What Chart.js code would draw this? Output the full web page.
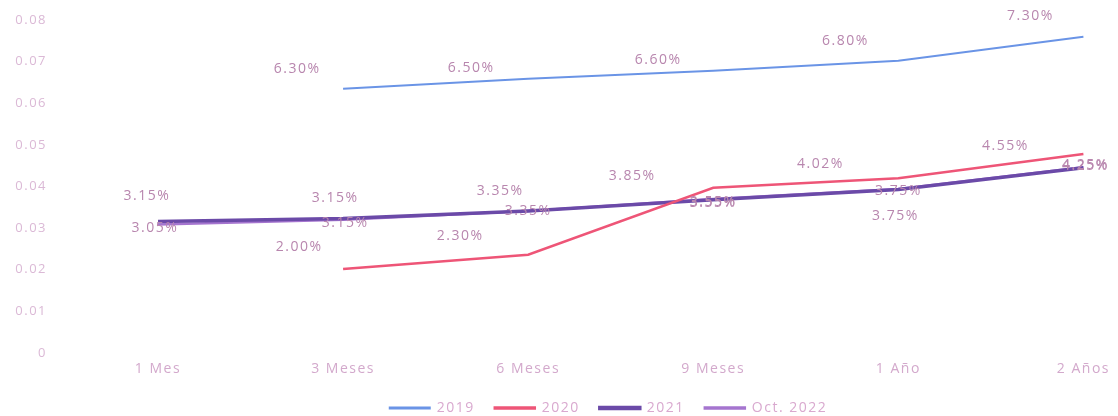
<!DOCTYPE html>
<html>
<head>
<meta charset="utf-8">
<script src="https://cdn.jsdelivr.net/npm/chart.js@4/dist/chart.umd.min.js"></script>
<style>
  html, body { margin: 0; padding: 0; background: #fff; overflow: hidden; }
  canvas { display: block; }
</style>
</head>
<body>
<canvas id="c" width="1118" height="416" style="width:1118px;height:416px"></canvas>
<script>
// categories and tick labels
const PLAZOS = ['1 Mes', '3 Meses', '6 Meses', '9 Meses', '1 Año', '2 Años'];
const Y_TICKS = [0, 0.01, 0.02, 0.03, 0.04, 0.05, 0.06, 0.07, 0.08];

// series values as plotted
const SERIE_2019 = [null, 0.0635, 0.0659, 0.0678, 0.0702, 0.0760];
const SERIE_2020 = [null, 0.0202, 0.0236, 0.0397, 0.0420, 0.0478];
const SERIE_2021 = [0.0316, 0.0323, 0.0341, 0.0368, 0.0393, 0.0445];
const SERIE_OCT2022 = [0.0309, 0.0320, 0.0341, 0.0370, 0.0394, 0.0446];

// data label texts
const ETQ_2019 = [null, '6.30%', '6.50%', '6.60%', '6.80%', '7.30%'];
const ETQ_2020 = [null, '2.00%', '2.30%', '3.85%', '4.02%', '4.55%'];
const ETQ_2021 = ['3.15%', '3.15%', '3.35%', '3.55%', '3.75%', '4.25%'];
const ETQ_OCT2022 = ['3.05%', '3.15%', '3.35%', '3.55%', '3.75%', '4.25%'];

// where each label sits relative to its point (px)
const LABEL_OFFSETS = [
    [[0, 0], [-46, -20], [-57, -11], [-55, -11], [-53, -20], [-53, -21]],
    [[0, 0], [-44, -22], [-68, -19], [-81, -12], [-78, -14], [-78, -8]],
    [[-11, -25], [-8, -21], [-28, -20], [0, 3], [-3, 27], [2, -2]],
    [[-3, 4], [2, 3], [0, 0], [0, 3], [0, 2], [2, -2]],
];
const ETIQUETAS = [ETQ_2019, ETQ_2020, ETQ_2021, ETQ_OCT2022];

const FONT = '"Open Sans", Lato, sans-serif';
const SPACING = '1.5px';

// the reference text is drawn wide, so widen every canvas string a bit
const wideText = {
    id: 'wideText',
    beforeLayout(chart) { chart.ctx.letterSpacing = SPACING; },
    afterLayout(chart) {
        // legend in the original sits a little right of the canvas centre
        chart.legend.left += 66;
        chart.legend.right += 66;
    },
    beforeDraw(chart) { chart.ctx.letterSpacing = SPACING; }
};

const dataLabels = {
    id: 'dataLabels',
    afterDatasetsDraw(chart) {
        const ctx = chart.ctx;
        ctx.save();
        ctx.letterSpacing = SPACING;
        ctx.font = '14px ' + FONT;
        ctx.fillStyle = '#b886ae';
        ctx.textAlign = 'center';
        ctx.textBaseline = 'middle';
        chart.data.datasets.forEach((ds, d) => {
            const meta = chart.getDatasetMeta(d);
            meta.data.forEach((pt, i) => {
                const txt = ETIQUETAS[d][i];
                if (!txt || ds.data[i] == null) return;
                const off = LABEL_OFFSETS[d][i];
                ctx.fillText(txt, pt.x + off[0], pt.y + off[1]);
            });
        });
        ctx.restore();
    }
};

const mk = (label, data, color, width) => ({
    label, data,
    borderColor: color,
    backgroundColor: color,
    borderWidth: width,
    pointRadius: 0,
    pointHoverRadius: 0,
    tension: 0,
    spanGaps: false,
});

new Chart(document.getElementById('c'), {
    type: 'line',
    data: {
        labels: PLAZOS,
        datasets: [
            mk('2019', SERIE_2019, '#6a94e6', 2),
            mk('2020', SERIE_2020, '#ee5577', 2.5),
            mk('2021', SERIE_2021, '#6b4aa8', 3.5),
            mk('Oct. 2022', SERIE_OCT2022, '#a575cf', 2.5),
        ]
    },
    options: {
        responsive: false,
        maintainAspectRatio: false,
        devicePixelRatio: 1,
        animation: false,
        layout: { padding: { top: 12, right: 33, left: 0, bottom: -9 } },
        plugins: {
            legend: {
                position: 'bottom',
                labels: {
                    boxWidth: 40,
                    boxHeight: 1,
                    padding: 20,
                    color: '#d9a9cf',
                    font: { family: FONT, size: 14 }
                }
            },
            tooltip: { enabled: false }
        },
        scales: {
            x: {
                grid: { display: false, drawTicks: false },
                border: { display: false },
                ticks: { color: '#d3a9cc', padding: 8, font: { family: FONT, size: 14 } },
                afterFit: s => { s.height = 28; }
            },
            y: {
                min: 0,
                max: 0.08,
                afterBuildTicks: s => { s.ticks = Y_TICKS.map(v => ({ value: v })); },
                grid: { display: false, drawTicks: false },
                border: { display: false },
                ticks: {
                    color: '#dbb9d6',
                    padding: 111,
                    font: { family: FONT, size: 13 },
                    callback: v => v === 0 ? '0' : v.toFixed(2)
                },
                afterFit: s => {
                    s.width = 158;
                    // tick padding is only meant to push labels left, not to shrink the plot
                    s.paddingTop = 20;
                    s.paddingBottom = 4;
                }
            }
        }
    },
    plugins: [wideText, dataLabels]
});
</script>
</body>
</html>
